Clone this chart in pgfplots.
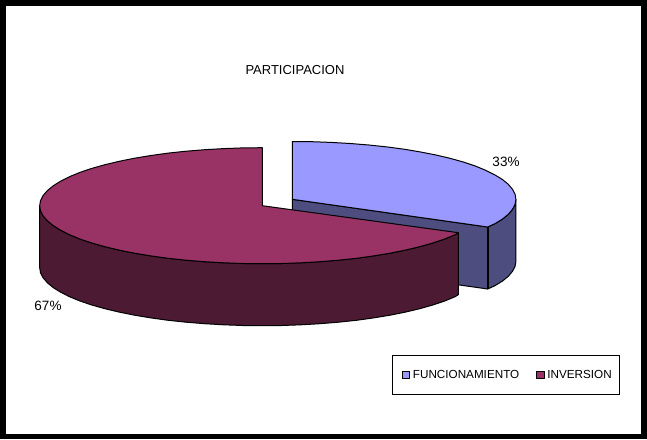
\documentclass[border=0pt]{standalone}
\usepackage{fontspec}
\setmainfont{Liberation Sans}
\usepackage{pgfplots}
\pgfplotsset{compat=1.18}
\definecolor{bluetop}{HTML}{9999FF}
\definecolor{blueside}{HTML}{4D4D80}
\definecolor{martop}{HTML}{993366}
\definecolor{marside}{HTML}{4D1A33}
\begin{document}
\begin{tikzpicture}
\begin{axis}[
    hide axis, scale only axis,
    width=647pt, height=439pt,
    xmin=0, xmax=647, ymin=0, ymax=439,
    y dir=reverse,
    no markers,
    every axis plot/.append style={line width=1pt, line join=round},
    legend columns=2,
    legend image code/.code={
        \draw[draw=none, fill=none] (0pt,0pt) -- (12.1pt,0pt);
        \draw[#1, line width=1pt] (3.3pt,-3.6pt) rectangle (10.9pt,3.8pt);},
    legend style={
        at={(axis cs:392.3,355)}, anchor=north west,
        draw=black, line width=1pt, fill=white,
        font=\fontsize{11.7}{14}\selectfont,
        inner xsep=6pt, inner ysep=12.6pt,
        /tikz/every even column/.append style={column sep=12pt},
    },
]
% frame
\addplot[fill=black, draw=none, forget plot] coordinates {(0,0) (647,0) (647,439) (0,439)} -- cycle;
\addplot[fill=white, draw=none, forget plot] coordinates {(6,6) (641,6) (641,434) (6,434)} -- cycle;

% FUNCIONAMIENTO 33%: cut face
\addplot[fill=blueside, draw=black, forget plot] coordinates {
    (292.3,199.3) (487.7,227) (487.7,289) (292.3,261.3)} -- cycle;
% outer wall
\addplot[fill=blueside, draw=black, forget plot] coordinates {
    (515.9,199.3) (515.1,204.3) (512.5,209.3) (508.3,214.3) (502.4,219.1) (494.9,223.7) (487.7,227)
    (487.7,289) (494.9,285.7) (502.4,281.1) (508.3,276.3) (512.5,271.3) (515.1,266.3) (515.9,261.3)} -- cycle;
% top
\addplot[fill=bluetop, draw=black] coordinates {
    (292.3,199.3) (292.3,141.5) (311.8,141.7) (331.1,142.4) (350.2,143.5) (368.8,145.0) (386.8,146.9)
    (404.1,149.2) (420.6,152.0) (436.0,155.0) (450.4,158.4) (463.6,162.1) (475.5,166.1) (485.9,170.4)
    (494.9,174.9) (502.4,179.5) (508.3,184.3) (512.5,189.3) (515.1,194.3) (515.9,199.3) (515.1,204.3)
    (512.5,209.3) (508.3,214.3) (502.4,219.1) (494.9,223.7) (487.7,227)} -- cycle;
\addlegendentry{FUNCIONAMIENTO}
\draw[black, line width=1.6pt] (axis cs:487.7,227) -- (axis cs:487.7,289);

% INVERSION 67%: outer wall
\addplot[fill=marside, draw=black, forget plot] coordinates {
    (458.3,232.7) (455.1,234.7) (444.7,239.0) (432.8,243.0) (419.7,246.7) (405.4,250.1) (390.0,253.2)
    (373.6,255.9) (356.4,258.3) (338.4,260.2) (319.9,261.7) (300.9,262.8) (281.7,263.5) (262.3,263.7)
    (242.9,263.5) (223.7,262.8) (204.7,261.7) (186.2,260.2) (168.2,258.3) (151.0,255.9) (134.6,253.2)
    (119.2,250.1) (104.9,246.7) (91.8,243.0) (79.9,239.0) (69.5,234.7) (60.6,230.2) (53.1,225.5)
    (47.3,220.7) (43.1,215.8) (40.5,210.8) (39.7,205.7)
    (39.7,267.7) (40.5,272.8) (43.1,277.8) (47.3,282.7) (53.1,287.5) (60.6,292.2) (69.5,296.7)
    (79.9,301.0) (91.8,305.0) (104.9,308.7) (119.2,312.1) (134.6,315.2) (151.0,317.9) (168.2,320.3)
    (186.2,322.2) (204.7,323.7) (223.7,324.8) (242.9,325.5) (262.3,325.7) (281.7,325.5) (300.9,324.8)
    (319.9,323.7) (338.4,322.2) (356.4,320.3) (373.6,317.9) (390.0,315.2) (405.4,312.1) (419.7,308.7)
    (432.8,305.0) (444.7,301.0) (455.1,296.7) (458.3,294.7)} -- cycle;
% top
\addplot[fill=martop, draw=black] coordinates {
    (262.3,205.7) (458.3,232.7) (455.1,234.7) (444.7,239.0) (432.8,243.0) (419.7,246.7) (405.4,250.1)
    (390.0,253.2) (373.6,255.9) (356.4,258.3) (338.4,260.2) (319.9,261.7) (300.9,262.8) (281.7,263.5)
    (262.3,263.7) (242.9,263.5) (223.7,262.8) (204.7,261.7) (186.2,260.2) (168.2,258.3) (151.0,255.9)
    (134.6,253.2) (119.2,250.1) (104.9,246.7) (91.8,243.0) (79.9,239.0) (69.5,234.7) (60.6,230.2)
    (53.1,225.5) (47.3,220.7) (43.1,215.8) (40.5,210.8) (39.7,205.7) (40.5,200.6) (43.1,195.6)
    (47.3,190.7) (53.1,185.9) (60.6,181.2) (69.5,176.7) (79.9,172.4) (91.8,168.4) (104.9,164.7)
    (119.2,161.3) (134.6,158.2) (151.0,155.5) (168.2,153.1) (186.2,151.2) (204.7,149.7) (223.7,148.6)
    (242.9,147.9) (262.3,147.7)} -- cycle;
\addlegendentry{INVERSION}

\node[font=\fontsize{13}{15}\selectfont] at (axis cs:295,70.5) {PARTICIPACION};
\node[font=\fontsize{13.5}{16}\selectfont] at (axis cs:506,162) {33\%};
\node[font=\fontsize{13.5}{16}\selectfont] at (axis cs:48,306) {67\%};
\end{axis}
\end{tikzpicture}
\end{document}
